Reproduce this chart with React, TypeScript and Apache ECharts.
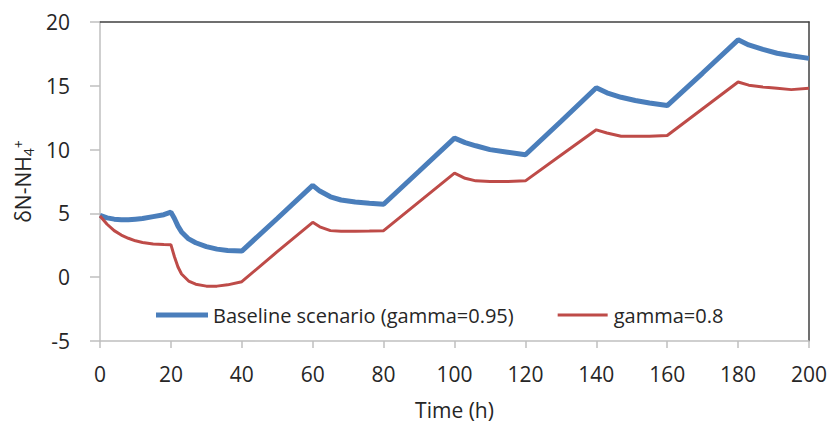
import React, { useEffect, useRef } from "react";
import * as echarts from "echarts";

const times = [0, 2, 4, 6, 8, 10, 12, 15, 18, 20, 21, 22, 23, 25, 27, 30, 33, 36, 40, 50, 60, 62, 65, 68, 72, 76, 80, 90, 100, 103, 106, 110, 115, 120, 130, 140, 143, 147, 151, 155, 160, 170, 180, 183, 187, 191, 195, 200];
const baseline = [4.85, 4.65, 4.55, 4.5, 4.5, 4.55, 4.6, 4.75, 4.9, 5.1, 4.6, 4.0, 3.55, 3.0, 2.7, 2.4, 2.2, 2.1, 2.05, 4.6, 7.2, 6.75, 6.3, 6.05, 5.9, 5.8, 5.72, 8.3, 10.9, 10.55, 10.3, 10.0, 9.8, 9.6, 12.2, 14.85, 14.45, 14.1, 13.85, 13.65, 13.45, 16.0, 18.6, 18.2, 17.85, 17.55, 17.35, 17.15];
const gamma08 = [4.8, 4.15, 3.65, 3.3, 3.05, 2.85, 2.72, 2.6, 2.56, 2.55, 1.6, 0.8, 0.25, -0.3, -0.55, -0.7, -0.7, -0.6, -0.35, 2.0, 4.3, 3.95, 3.65, 3.6, 3.6, 3.62, 3.65, 5.9, 8.15, 7.75, 7.55, 7.5, 7.5, 7.55, 9.55, 11.55, 11.3, 11.05, 11.05, 11.05, 11.1, 13.2, 15.3, 15.05, 14.9, 14.8, 14.7, 14.8];
const seriesNames = ["Baseline scenario (gamma=0.95)", "gamma=0.8"];
const xTitle = "Time (h)";
const yTitle = "δN-NH{sub|4}{sup|+}";

export default function App() {
  const ref = useRef<HTMLDivElement>(null);
  useEffect(() => {
    if (!ref.current) return;
    const chart = echarts.init(ref.current, null, { renderer: "svg" });
    const font = "'Open Sans', sans-serif";
    const txt = "#262626";
    chart.setOption({
      animation: false,
      textStyle: { fontFamily: font },
      grid: { left: 100, top: 22, right: 22, bottom: 89, outerBoundsMode: "none", containLabel: false },
      legend: {
        left: 151,
        top: 300,
        itemWidth: 52,
        itemHeight: 5,
        itemGap: 44,
        textStyle: { fontFamily: font, fontSize: 20, color: txt },
        data: [
          { name: seriesNames[0], icon: "rect" },
          { name: seriesNames[1], icon: "path://M0,0L0,0M0,1L50,1L50,4L0,4ZM0,5L0,5" },
        ],
      },
      xAxis: [
        {
          type: "value",
          min: 0,
          max: 200,
          interval: 20,
          name: xTitle,
          nameLocation: "middle",
          nameGap: 58,
          nameTextStyle: { fontFamily: font, fontSize: 21, color: txt },
          axisLine: { onZero: false, lineStyle: { color: "#BFBFBF", width: 1.5 } },
          axisTick: { show: true, length: 7, lineStyle: { color: "#BFBFBF", width: 1.5 } },
          axisLabel: { fontFamily: font, fontSize: 21, color: txt, margin: 22 },
          splitLine: { show: false },
        },
        {
          type: "value",
          position: "top",
          min: 0,
          max: 200,
          axisLine: { show: true, onZero: false, lineStyle: { color: "#404040", width: 1.5 } },
          axisTick: { show: false },
          axisLabel: { show: false },
          splitLine: { show: false },
        },
      ],
      yAxis: [
        {
          type: "value",
          min: -5,
          max: 20,
          interval: 5,
          name: yTitle,
          nameLocation: "middle",
          nameGap: 62,
          nameTextStyle: {
            fontFamily: font,
            fontSize: 21,
            color: txt,
            lineHeight: 24,
            rich: {
              sub: { fontSize: 14, fontFamily: font, color: txt, verticalAlign: "bottom", lineHeight: 14, padding: [6, 0, 0, 0] },
              sup: { fontSize: 14, fontFamily: font, color: txt, verticalAlign: "top", lineHeight: 14, padding: [0, 0, 6, 0] },
            },
          },
          axisLine: { show: true, onZero: false, lineStyle: { color: "#BFBFBF", width: 1.5 } },
          axisTick: { show: true, length: 10, lineStyle: { color: "#BFBFBF", width: 1.5 } },
          axisLabel: { fontFamily: font, fontSize: 21, color: txt, margin: 30 },
          splitLine: { show: false },
        },
        {
          type: "value",
          position: "right",
          min: -5,
          max: 20,
          axisLine: { show: true, onZero: false, lineStyle: { color: "#404040", width: 1.5 } },
          axisTick: { show: false },
          axisLabel: { show: false },
          splitLine: { show: false },
        },
      ],
      series: [
        {
          name: seriesNames[0],
          type: "line",
          symbol: "none",
          showSymbol: false,
          data: times.map((t, i) => [t, baseline[i]]),
          lineStyle: { color: "#4A7EBB", width: 5 },
          itemStyle: { color: "#4A7EBB" },
        },
        {
          name: seriesNames[1],
          type: "line",
          symbol: "none",
          showSymbol: false,
          data: times.map((t, i) => [t, gamma08[i]]),
          lineStyle: { color: "#BE4B48", width: 3 },
          itemStyle: { color: "#BE4B48" },
        },
      ],
    });
    return () => chart.dispose();
  }, []);
  return (
    <div
      ref={ref}
      style={{ position: "absolute", left: 0, top: 0, width: 831, height: 430 }}
    />
  );
}
